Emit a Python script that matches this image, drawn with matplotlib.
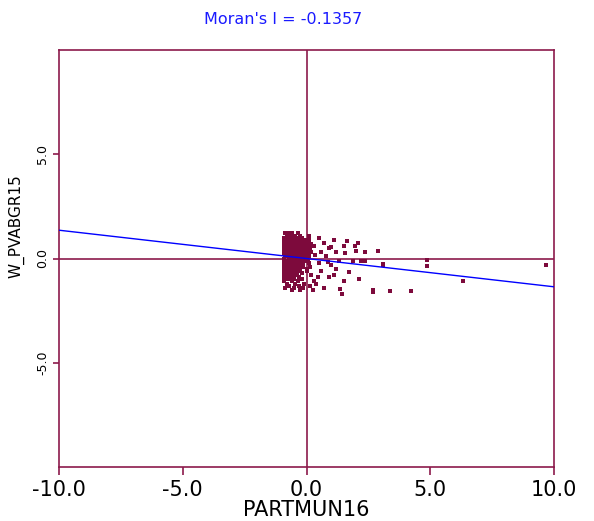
import matplotlib
matplotlib.use("Agg")
import matplotlib.pyplot as plt

# Moran scatterplot: PARTMUN16 vs spatial lag W_PVABGR15
moran_i = -0.1357
x_ticks = [-10.0, -5.0, 0.0, 5.0, 10.0]
y_ticks = [-5.0, 0.0, 5.0]

# dense cluster just left of zero, listed row by row (y, xs)
cluster_rows = [
    (1.2, [-0.85, -0.6, -0.35, -0.75]),
    (1.1, [-0.8, -0.7, -0.45, -0.25, -0.6]),
    (1.0, [-0.9, -0.75, -0.55, -0.4, -0.2, -0.65]),
    (0.9, [-0.85, -0.65, -0.5, -0.3, -0.1, -0.75, 0.05]),
    (0.8, [-0.9, -0.8, -0.6, -0.45, -0.35, -0.15, -0.7]),
    (0.7, [-0.85, -0.7, -0.55, -0.4, -0.25, -0.05, -0.6, 0.1]),
    (0.6, [-0.9, -0.75, -0.6, -0.5, -0.3, -0.2, -0.4, 0.0]),
    (0.5, [-0.85, -0.7, -0.55, -0.45, -0.3, -0.1, -0.65, 0.15]),
    (0.4, [-0.9, -0.8, -0.65, -0.5, -0.35, -0.2, -0.55, 0.05]),
    (0.3, [-0.85, -0.7, -0.6, -0.4, -0.25, -0.05, -0.5, 0.2]),
    (0.2, [-0.9, -0.75, -0.55, -0.45, -0.3, -0.15, -0.65, 0.0]),
    (0.1, [-0.85, -0.65, -0.5, -0.35, -0.2, -0.75, -0.05, 0.1]),
    (0.0, [-0.9, -0.7, -0.6, -0.4, -0.25, -0.5, -0.1]),
    (-0.1, [-0.85, -0.75, -0.55, -0.45, -0.3, -0.1, -0.65, 0.05]),
    (-0.2, [-0.9, -0.7, -0.6, -0.35, -0.2, -0.5, 0.1]),
    (-0.3, [-0.8, -0.65, -0.5, -0.3, -0.9, -0.15]),
    (-0.4, [-0.9, -0.75, -0.55, -0.4, -0.15, -0.65]),
    (-0.5, [-0.85, -0.6, -0.45, -0.25, -0.7, 0.0]),
    (-0.6, [-0.9, -0.7, -0.5, -0.35, -0.8]),
    (-0.7, [-0.8, -0.6, -0.4, -0.2, -0.5]),
    (-0.8, [-0.9, -0.65, -0.45, -0.75]),
    (-0.9, [-0.85, -0.55, -0.3, -0.7]),
    (-1.0, [-0.75, -0.5, -0.2, -0.9]),
    (-1.1, [-0.9, -0.6, -0.35]),
    (-1.2, [-0.8, -0.45, -0.1]),
    (-1.3, [-0.7, -0.3]),
    (-1.4, [-0.85, -0.5, -0.15]),
    (-1.5, [-0.6, -0.25]),
]

# sparser points to the right of zero
tail_x = [0.5, 0.7, 0.9, 1.1, 0.6, 0.8, 1.0, 1.2, 0.6, 0.9, 0.4, 0.7, 1.2, 1.3,
          0.5, 1.1, 0.3, 0.2, 0.35, 0.15, 0.1, 0.25, 0.05, 0.45, 1.0, 0.85,
          1.62, 2.1, 1.94, 1.5, 1.54, 2.02, 1.86, 2.22, 2.38, 1.7, 2.14, 1.5,
          1.34, 1.42, 0.1, 0.2, 0.0, 0.3, 0.15]
tail_y = [1.0, 0.75, 0.5, 0.9, 0.3, 0.1, -0.3, -0.5, -0.6, -0.9, -1.2, -1.4, 0.3, -0.1,
          -0.2, -0.8, 0.6, -0.8, 0.15, -0.4, 0.9, -1.5, 0.4, -0.9, 0.55, -0.15,
          0.82, 0.72, 0.62, 0.58, 0.24, 0.34, -0.14, -0.14, -0.14, -0.67, -0.96, -1.1,
          -1.45, -1.68, 1.1, 0.7, -0.6, -1.1, -1.3]

# outliers far right
far_x = [3.1, 4.85, 4.85, 3.36, 4.24, 6.33, 9.66, 2.7, 2.7, 2.87, 2.38, 3.1]
far_y = [-0.24, -0.34, -0.05, -1.54, -1.54, -1.09, -0.29, -1.5, -1.62, 0.34, 0.29, -0.29]

maroon = "#8c1a4b"
dot = "#7d0a3c"

xs, ys = [], []
for yv, row in cluster_rows:
    for xv in row:
        xs.append(xv)
        ys.append(yv)
xs += tail_x + far_x
ys += tail_y + far_y

fig = plt.figure(figsize=(5.94, 5.21), dpi=100)
ax = fig.add_axes([59 / 594, 54 / 521, 495 / 594, 417 / 521])

ax.axhline(0, color=maroon, lw=1.2, zorder=1)
ax.axvline(0, color=maroon, lw=1.2, zorder=1)
ax.scatter(xs, ys, marker="s", s=6, color=dot, linewidths=0, zorder=2)

# regression line, slope = Moran's I
ax.plot([-10, 10], [-10 * moran_i, 10 * moran_i], color="#0000ff", lw=1.0, zorder=3)

ax.set_xlim(-10, 10)
ax.set_ylim(-10, 10)
ax.set_xticks(x_ticks)
ax.set_xticklabels([f"{v:.1f}" for v in x_ticks], fontsize=15)
ax.set_yticks(y_ticks)
ax.set_yticklabels([f"{v:.1f}" for v in y_ticks], fontsize=9, rotation=90, va="center")
ax.tick_params(axis="x", color=maroon, length=6, width=1.2, pad=3)
ax.tick_params(axis="y", color=maroon, length=4, width=1.2, pad=3)
for s in ax.spines.values():
    s.set_color(maroon)
    s.set_linewidth(1.2)

ax.set_xlabel("PARTMUN16", fontsize=15, labelpad=0)
ax.set_ylabel("W_PVABGR15", fontsize=11)
ax.yaxis.set_label_coords(-0.07, 0.578)

fig.text(283 / 594, 1 - 20 / 521, f"Moran's I = {moran_i}", color="#1a1aff",
         fontsize=11.5, ha="center", va="center")

fig.savefig("out.png", dpi=100)
